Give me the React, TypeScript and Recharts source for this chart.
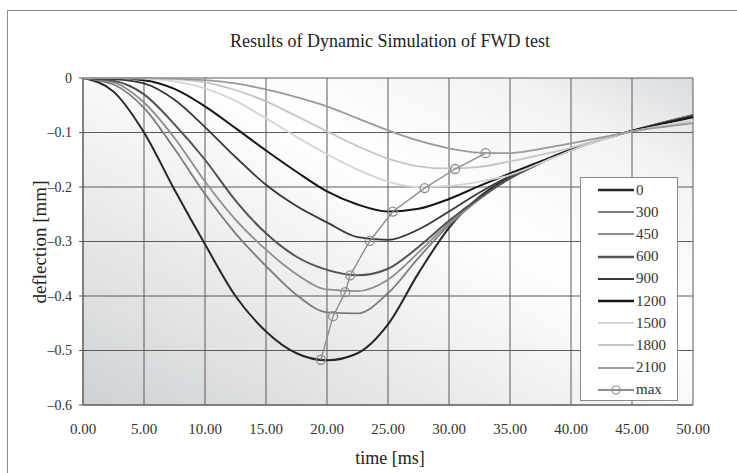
import React from "react";
import {
  LineChart,
  Line,
  XAxis,
  YAxis,
  CartesianGrid,
} from "recharts";

const times = [0, 2.5, 5, 7.5, 10, 12.5, 15, 17.5, 20, 22.5, 25, 27.5, 30, 32.5, 35, 37.5, 40, 42.5, 45, 47.5, 50];

const d0 = [0, -0.025, -0.1, -0.205, -0.305, -0.4, -0.465, -0.505, -0.518, -0.505, -0.452, -0.358, -0.275, -0.218, -0.182, -0.155, -0.132, -0.113, -0.097, -0.082, -0.068];
const d300 = [0, -0.012, -0.055, -0.13, -0.213, -0.285, -0.345, -0.398, -0.43, -0.432, -0.395, -0.33, -0.27, -0.222, -0.184, -0.156, -0.132, -0.113, -0.097, -0.082, -0.068];
const d450 = [0, -0.008, -0.045, -0.11, -0.19, -0.26, -0.315, -0.36, -0.388, -0.391, -0.37, -0.32, -0.266, -0.222, -0.184, -0.156, -0.132, -0.113, -0.097, -0.082, -0.069];
const d600 = [0, -0.005, -0.03, -0.085, -0.15, -0.225, -0.285, -0.328, -0.352, -0.362, -0.35, -0.31, -0.262, -0.22, -0.184, -0.156, -0.132, -0.113, -0.097, -0.083, -0.07];
const d900 = [0, -0.002, -0.01, -0.04, -0.09, -0.145, -0.196, -0.235, -0.265, -0.292, -0.297, -0.278, -0.245, -0.21, -0.18, -0.155, -0.132, -0.113, -0.097, -0.083, -0.07];
const d1200 = [0, 0, -0.004, -0.02, -0.052, -0.092, -0.133, -0.172, -0.208, -0.232, -0.245, -0.24, -0.222, -0.198, -0.175, -0.153, -0.131, -0.113, -0.097, -0.084, -0.072];
const d1500 = [0, 0, -0.001, -0.006, -0.019, -0.042, -0.074, -0.108, -0.14, -0.168, -0.19, -0.2, -0.198, -0.19, -0.178, -0.156, -0.133, -0.114, -0.098, -0.087, -0.078];
const d1800 = [0, 0, 0, -0.002, -0.008, -0.022, -0.043, -0.07, -0.098, -0.125, -0.148, -0.162, -0.166, -0.163, -0.153, -0.141, -0.128, -0.112, -0.098, -0.089, -0.082];
const d2100 = [0, 0, 0, -0.001, -0.004, -0.01, -0.021, -0.035, -0.052, -0.074, -0.096, -0.115, -0.129, -0.137, -0.138, -0.13, -0.12, -0.109, -0.098, -0.09, -0.083];

// peak of each curve (0 .. 2100)
const maxTime = [19.5, 20.5, 21.5, 21.9, 23.5, 25.4, 28.0, 30.5, 33.0];
const maxDefl = [-0.517, -0.437, -0.393, -0.362, -0.299, -0.245, -0.202, -0.167, -0.138];

const xTicks = [0, 5, 10, 15, 20, 25, 30, 35, 40, 45, 50];
const yTicks = [0, -0.1, -0.2, -0.3, -0.4, -0.5, -0.6];

const series = [
  { key: "s0", name: "0", values: d0, color: "#262626", width: 2 },
  { key: "s300", name: "300", values: d300, color: "#7c7c7c", width: 1.8 },
  { key: "s450", name: "450", values: d450, color: "#8e8e8e", width: 1.8 },
  { key: "s600", name: "600", values: d600, color: "#525252", width: 2 },
  { key: "s900", name: "900", values: d900, color: "#383838", width: 1.8 },
  { key: "s1200", name: "1200", values: d1200, color: "#161616", width: 2 },
  { key: "s1500", name: "1500", values: d1500, color: "#d4d4d4", width: 1.8 },
  { key: "s1800", name: "1800", values: d1800, color: "#c4c4c4", width: 1.8 },
  { key: "s2100", name: "2100", values: d2100, color: "#9a9a9a", width: 1.8 },
];

const rows = times.map((t, i) => {
  const row: Record<string, number> = { t };
  series.forEach((s) => {
    row[s.key] = s.values[i];
  });
  return row;
});

const maxRows = maxTime.map((t, i) => ({ t, max: maxDefl[i] }));

const FONT = "'Liberation Serif', 'DejaVu Serif', serif";

function fmtY(v: number) {
  if (v === 0) return "0";
  return "\u2013" + Math.abs(v).toFixed(1);
}

function LegendBox() {
  const entries = [
    ...series.map((s) => ({ name: s.name, color: s.color, w: s.width, dot: false })),
    { name: "max", color: "#8e8e8e", w: 1.4, dot: true },
  ];
  return (
    <div
      style={{
        position: "absolute",
        left: 580,
        top: 177,
        width: 98,
        height: 224,
        background: "#fff",
        border: "1px solid #8a8a8a",
        boxSizing: "border-box",
        paddingTop: 1,
        fontFamily: FONT,
        fontSize: 15,
        color: "#333",
      }}
    >
      {entries.map((e) => (
        <div key={e.name} style={{ height: 22.2, display: "flex", alignItems: "center" }}>
          <svg width={55} height={12} style={{ display: "block" }}>
            <line x1={17} y1={6} x2={53} y2={6} stroke={e.color} strokeWidth={e.w + 0.4} />
            {e.dot && <circle cx={35} cy={6} r={4} fill="none" stroke={e.color} strokeWidth={1.2} />}
          </svg>
          <span style={{ lineHeight: "15px" }}>{e.name}</span>
        </div>
      ))}
    </div>
  );
}

export default function App() {
  return (
    <div
      style={{
        position: "absolute",
        left: 0,
        top: 0,
        width: 737,
        height: 473,
        overflow: "hidden",
        background: "#fff",
        fontFamily: FONT,
      }}
    >
      <div
        style={{
          position: "absolute",
          left: 7,
          top: 10,
          width: 800,
          height: 600,
          border: "1px solid #8a8a8a",
        }}
      />
      <div
        style={{
          position: "absolute",
          left: 0,
          top: 31,
          width: 780,
          textAlign: "center",
          fontSize: 18,
          color: "#222",
        }}
      >
        Results of Dynamic Simulation of FWD test
      </div>
      <div
        style={{
          position: "absolute",
          left: 0,
          top: 448,
          width: 780,
          textAlign: "center",
          fontSize: 18,
          color: "#222",
        }}
      >
        time [ms]
      </div>
      <div
        style={{
          position: "absolute",
          left: 40,
          top: 242,
          transform: "translate(-50%, -50%) rotate(-90deg)",
          whiteSpace: "nowrap",
          fontSize: 19,
          color: "#222",
        }}
      >
        deflection [mm]
      </div>
      <div style={{ position: "absolute", left: 0, top: 0 }}>
        <LineChart
          width={737}
          height={473}
          data={rows}
          margin={{ top: 78, right: 44, bottom: 0, left: 0 }}
        >
          <defs>
            <linearGradient id="plotBg" x1="0" y1="1" x2="1" y2="0">
              <stop offset="0%" stopColor="#cfd2d5" />
              <stop offset="35%" stopColor="#eceded" />
              <stop offset="60%" stopColor="#ffffff" />
              <stop offset="85%" stopColor="#f1f2f3" />
              <stop offset="100%" stopColor="#d9dcdf" />
            </linearGradient>
          </defs>
          <CartesianGrid
            stroke="#5a5a5a"
            strokeWidth={1}
            fill="url(#plotBg)"
            fillOpacity={1}
            horizontalValues={yTicks}
            verticalValues={xTicks}
          />
          <XAxis
            dataKey="t"
            type="number"
            domain={[0, 50]}
            ticks={xTicks}
            height={68}
            tickFormatter={(v) => Number(v).toFixed(2)}
            tick={{ fill: "#333", fontSize: 15, fontFamily: FONT }}
            tickLine={false}
            axisLine={{ stroke: "#5a5a5a" }}
            tickMargin={12}
          />
          <YAxis
            type="number"
            domain={[-0.6, 0]}
            ticks={yTicks}
            width={83}
            tickFormatter={fmtY}
            tick={{ fill: "#333", fontSize: 14, fontFamily: FONT }}
            tickLine={{ stroke: "#5a5a5a" }}
            tickSize={4}
            tickMargin={7}
            axisLine={{ stroke: "#5a5a5a" }}
          />
          {series.map((s) => (
            <Line
              key={s.key}
              dataKey={s.key}
              name={s.name}
              type="monotone"
              stroke={s.color}
              strokeWidth={s.width}
              dot={false}
              activeDot={false}
              isAnimationActive={false}
            />
          ))}
          <Line
            data={maxRows}
            dataKey="max"
            name="max"
            type="linear"
            stroke="#8e8e8e"
            strokeWidth={1.4}
            dot={{ r: 4.5, fill: "none", stroke: "#8e8e8e", strokeWidth: 1.3 }}
            activeDot={false}
            isAnimationActive={false}
          />
        </LineChart>
      </div>
      <LegendBox />
    </div>
  );
}
